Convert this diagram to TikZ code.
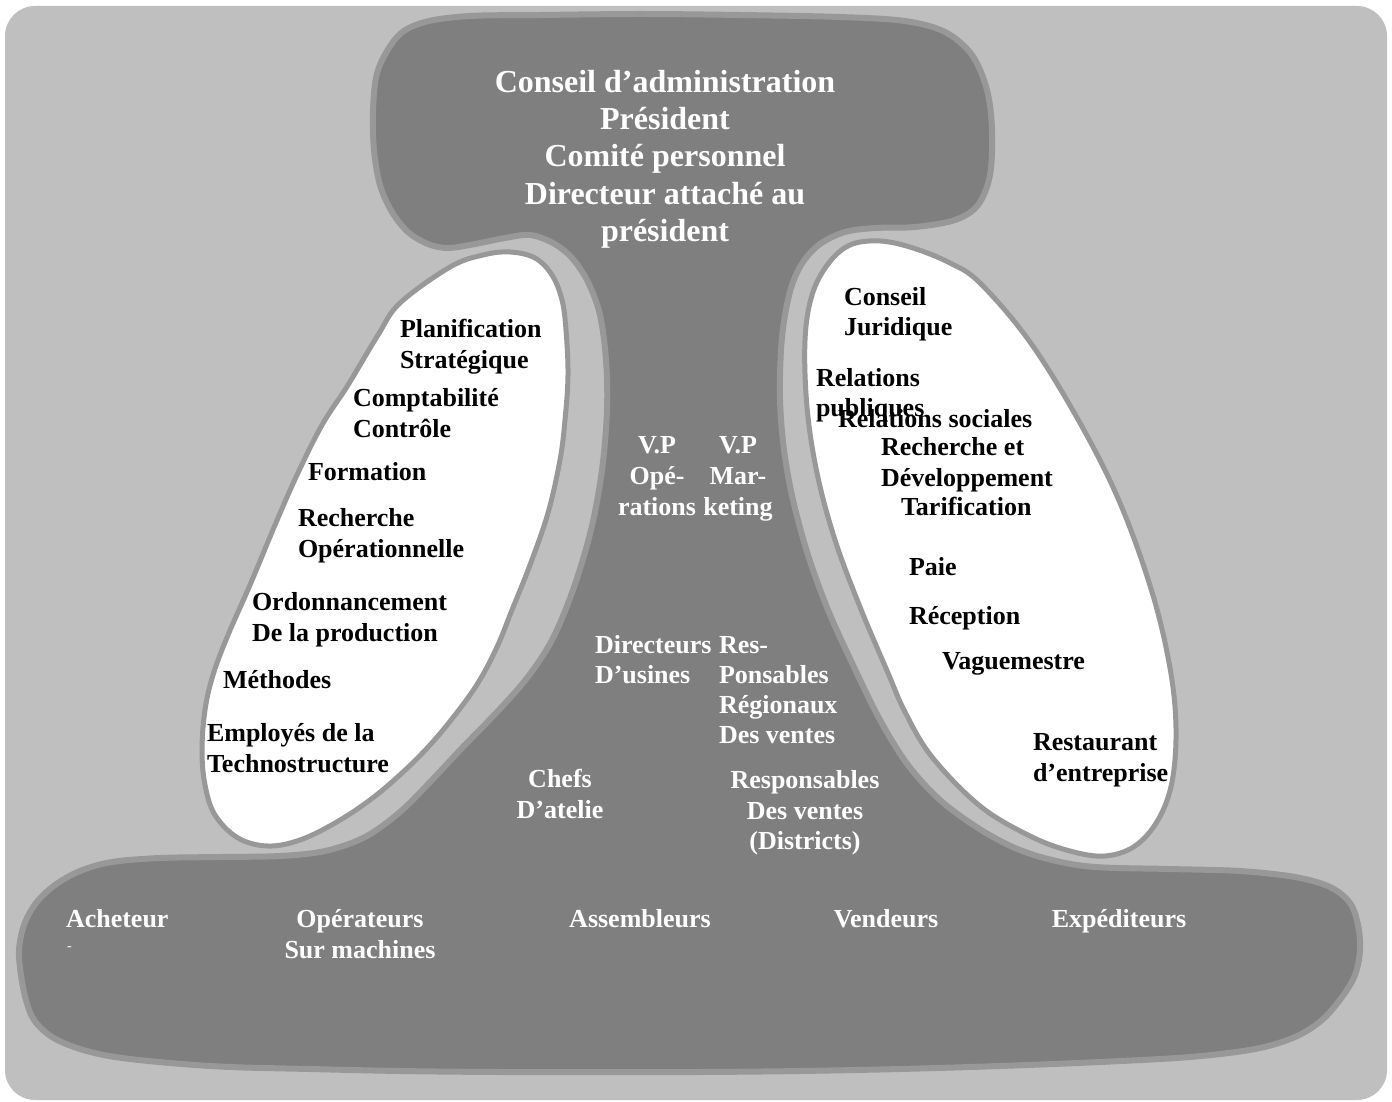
\documentclass[tikz,border=0pt]{standalone}
\usepackage{fontspec}
\setmainfont{Liberation Serif}
\definecolor{bgc}{RGB}{191,191,191}
\definecolor{darkc}{RGB}{127,127,127}
\definecolor{edgec}{RGB}{152,152,152}
\tikzset{
  lbl/.style={font=\bfseries\fontsize{13}{15}\selectfont, inner sep=0pt, outer sep=0pt},
  blk/.style={lbl, text=black, anchor=base west},
  wl/.style={lbl, text=white, anchor=base west},
  wc/.style={lbl, text=white, anchor=base},
  topt/.style={font=\bfseries\fontsize{16}{19}\selectfont, inner sep=0pt, outer sep=0pt, text=white, anchor=base},
  shapeline/.style={draw=edgec, line width=3pt, fill=darkc, line join=round},
  ovalline/.style={draw=edgec, line width=2.5pt, fill=white, line join=round},
}
\begin{document}
\begin{tikzpicture}[x=0.5pt, y=-0.5pt]
\useasboundingbox (0,0) rectangle (1392,1102);
\fill[bgc, rounded corners=15pt] (5,6) rectangle (1387,1100);

% dark structure (strategic apex, middle line, operating core)
\draw[shapeline] plot[smooth cycle, tension=0.55] coordinates {
 (398,36) (425,22) (470,16) (540,15) (640,14) (740,15) (840,17) (905,21)
 (945,32) (972,55) (987,90) (992,130) (990,175) (978,205) (955,220) (915,227)
 (875,228) (845,232) (820,244) (803,262) (792,285) (785,315) (781,350) (780,400)
 (784,450) (793,500) (808,555) (828,610) (853,665) (880,720) (908,765) (940,800)
 (978,828) (1015,848) (1052,860) (1095,867) (1170,869) (1240,871) (1295,877)
 (1330,887) (1350,903) (1358,925) (1360,950) (1355,975) (1342,997) (1322,1020)
 (1295,1037) (1255,1049) (1190,1057) (1100,1062) (1000,1066) (900,1069)
 (800,1071) (700,1072) (600,1072) (500,1072) (400,1071) (310,1069) (230,1067)
 (170,1063) (115,1057) (80,1049) (52,1037) (34,1020) (26,1000) (21,975)
 (19,950) (24,925) (36,903) (55,885) (80,871) (112,862) (160,858) (220,857)
 (280,856) (325,851) (365,837) (400,812) (432,780) (462,748) (497,712)
 (527,678) (552,640) (573,590) (591,530) (602,470) (607,410) (606,360)
 (600,315) (588,282) (572,258) (553,243) (530,235) (505,238) (475,244)
 (448,248) (428,244) (408,232) (392,212) (380,185) (374,150) (373,110) (378,70)};

% technostructure (left oval)
\draw[ovalline] plot[smooth cycle, tension=0.6] coordinates {
 (483,255) (510,252) (535,258) (552,275) (562,300) (566,330) (568,375)
 (565,420) (560,460) (548,513) (530,565) (512,610) (497,647) (478,683)
 (455,715) (430,745) (402,773) (370,800) (335,823) (300,840) (268,846)
 (238,838) (215,815) (205,785) (202,750) (205,710) (213,675)
 (228,635) (250,585) (275,525) (297,475) (322,425) (348,385) (378,335)
 (400,303) (450,267)};

% support staff (right oval)
\draw[ovalline] plot[smooth cycle, tension=0.6] coordinates {
 (850,245) (880,241) (913,248) (950,263) (980,283) (1030,342) (1080,423)
 (1120,503) (1152,592) (1170,668) (1176,728) (1172,782) (1158,820)
 (1135,846) (1105,856) (1070,851) (1030,836) (980,806) (932,757)
 (905,712) (888,673) (860,607) (835,540) (817,473) (807,407) (805,340)
 (812,295) (828,264)};

% strategic apex
\node[topt] (t1) at (665,93) {Conseil d’administration};
\node[topt] (t2) at (665,130) {Président};
\node[topt] (t3) at (665,167) {Comité personnel};
\node[topt] (t4) at (665,204) {Directeur attaché au};
\node[topt] (t5) at (665,241) {président};

% technostructure
\node[blk] (a1) at (400,337) {Planification};
\node[blk] (a2) at (400,368) {Stratégique};
\node[blk] (a3) at (353,406) {Comptabilité};
\node[blk] (a4) at (353,437) {Contrôle};
\node[blk] (a5) at (308,480) {Formation};
\node[blk] (a6) at (298,526) {Recherche};
\node[blk] (a7) at (298,557) {Opérationnelle};
\node[blk] (a8) at (252,610) {Ordonnancement};
\node[blk] (a9) at (252,641) {De la production};
\node[blk] (a10) at (223,688) {Méthodes};
\node[blk] (a11) at (207,741) {Employés de la};
\node[blk] (a12) at (207,772) {Technostructure};

% support staff
\node[blk] (b1) at (844,305) {Conseil};
\node[blk] (b2) at (844,335) {Juridique};
\node[blk] (b3) at (816,386) {Relations};
\node[blk] (b4) at (816,416) {publiques};
\node[blk] (b5) at (838,427) {Relations sociales};
\node[blk] (b6) at (881,455) {Recherche et};
\node[blk] (b7) at (881,486) {Développement};
\node[blk] (b8) at (901,515) {Tarification};
\node[blk] (b9) at (909,575) {Paie};
\node[blk] (b10) at (909,624) {Réception};
\node[blk] (b11) at (942,669) {Vaguemestre};
\node[blk] (b12) at (1033,750) {Restaurant};
\node[blk] (b13) at (1033,781) {d’entreprise};

% middle line
\node[wc] (m1) at (657,453) {V.P};
\node[wc] (m2) at (657,484) {Opé-};
\node[wc] (m3) at (657,515) {rations};
\node[wc] (m4) at (738,453) {V.P};
\node[wc] (m5) at (738,484) {Mar-};
\node[wc] (m6) at (738,515) {keting};
\node[wl] (m7) at (595,653) {Directeurs};
\node[wl] (m8) at (595,683) {D’usines};
\node[wl] (m9) at (719,653) {Res-};
\node[wl] (m10) at (719,683) {Ponsables};
\node[wl] (m11) at (719,713) {Régionaux};
\node[wl] (m12) at (719,743) {Des ventes};
\node[wc] (m13) at (560,787) {Chefs};
\node[wc] (m14) at (560,818) {D’atelie};
\node[wc] (m15) at (805,788) {Responsables};
\node[wc] (m16) at (805,819) {Des ventes};
\node[wc] (m17) at (805,849) {(Districts)};

% operating core
\node[wl] (o1) at (66,927) {Acheteur};
\node[wl, font=\fontsize{7}{8}\selectfont] (o7) at (67,950) {-};
\node[wc] (o2) at (360,927) {Opérateurs};
\node[wc] (o3) at (360,958) {Sur machines};
\node[wc] (o4) at (640,927) {Assembleurs};
\node[wc] (o5) at (886,927) {Vendeurs};
\node[wc] (o6) at (1119,927) {Expéditeurs};
\end{tikzpicture}
\end{document}
